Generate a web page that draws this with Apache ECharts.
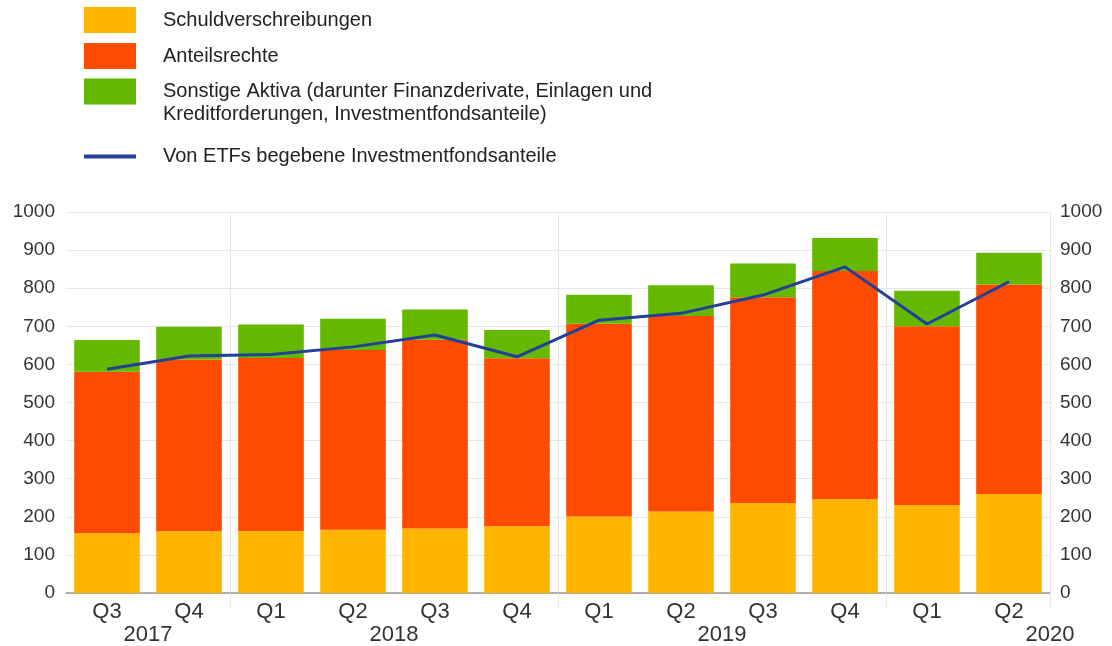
<!DOCTYPE html>
<html>
<head>
<meta charset="utf-8">
<script src="https://cdn.jsdelivr.net/npm/echarts@6/dist/echarts.min.js"></script>
<style>
  html, body { margin: 0; padding: 0; background: #fff; }
  #chart { width: 1112px; height: 646px; }
</style>
</head>
<body>
<div id="chart"></div>
<script>
const quarters = ["Q3", "Q4", "Q1", "Q2", "Q3", "Q4", "Q1", "Q2", "Q3", "Q4", "Q1", "Q2"];
// year labels sit on category boundaries (13 slots)
const yearSlots = ["", "2017", "", "", "2018", "", "", "", "2019", "", "", "", "2020"];
const yearStarts = [2, 6, 10];

const debtSecurities = [157, 162, 163, 166, 169, 175, 201, 214, 236, 246, 231, 260];
const equity = [424, 451, 454, 472, 496, 441, 506, 513, 540, 599, 469, 550];
const otherAssets = [83, 86, 88, 82, 79, 74, 76, 81, 89, 87, 93, 83];
const etfShares = [587, 622, 626, 646, 677, 620, 716, 734, 782, 856, 706, 817];

const names = {
  debt: "Schuldverschreibungen",
  equity: "Anteilsrechte",
  other: "Sonstige Aktiva",
  etf: "Von ETFs begebene Investmentfondsanteile"
};
const otherLabel = "Sonstige Aktiva (darunter Finanzderivate, Einlagen und\nKreditforderungen, Investmentfondsanteile)";

const chart = echarts.init(document.getElementById("chart"));
const font = "Liberation Sans, Arial, sans-serif";
const gridColor = "#e6e6e6";

const legendBase = (top, item, extra) => Object.assign({
  left: 84,
  top: top,
  padding: 0,
  itemWidth: 52,
  itemHeight: 26,
  selectedMode: false,
  data: [item],
  textStyle: { fontFamily: font, fontSize: 20, color: "#222", lineHeight: 23, padding: [0, 0, 0, 22] }
}, extra || {});

const showYearStart = (i) => yearStarts.indexOf(i) !== -1;

chart.setOption({
  animation: false,
  textStyle: { fontFamily: font },
  legend: [
    legendBase(7, { name: names.debt, icon: "rect" }),
    legendBase(43, { name: names.equity, icon: "rect" }),
    // empty first line so the first text line sits level with the swatch
    legendBase(57, { name: names.other, icon: "rect" }, { formatter: () => " \n" + otherLabel }),
    legendBase(145, { name: names.etf, icon: "rect" }, { itemHeight: 4 })
  ],
  grid: { left: 66, right: 62, top: 212, bottom: 53 },
  xAxis: [
    {
      type: "category",
      data: quarters,
      axisLine: { lineStyle: { color: "#999", width: 1.5 } },
      axisTick: { show: true, interval: showYearStart, length: 14, lineStyle: { color: gridColor } },
      splitLine: { show: true, interval: showYearStart, lineStyle: { color: gridColor } },
      axisLabel: { fontSize: 22, color: "#333", margin: 8 }
    },
    {
      type: "category",
      data: yearSlots,
      boundaryGap: false,
      position: "bottom",
      offset: 23,
      axisLine: { show: false },
      axisTick: { show: false },
      splitLine: { show: false },
      axisLabel: { interval: 0, fontSize: 22, color: "#333", margin: 8 }
    }
  ],
  yAxis: [
    {
      type: "value",
      min: 0, max: 1000, interval: 100,
      axisLine: { show: false },
      axisTick: { show: false },
      splitLine: { lineStyle: { color: gridColor } },
      axisLabel: { fontSize: 19, color: "#333", margin: 11, formatter: (v) => String(v) }
    },
    {
      type: "value",
      position: "right",
      min: 0, max: 1000, interval: 100,
      axisLine: { show: false },
      axisTick: { show: false },
      splitLine: { show: false },
      axisLabel: { fontSize: 19, color: "#333", margin: 10, formatter: (v) => String(v) }
    }
  ],
  series: [
    { name: names.debt, type: "bar", stack: "assets", data: debtSecurities, barCategoryGap: "20%", itemStyle: { color: "#FFB400" } },
    { name: names.equity, type: "bar", stack: "assets", data: equity, itemStyle: { color: "#FF4B00" } },
    { name: names.other, type: "bar", stack: "assets", data: otherAssets, itemStyle: { color: "#65B800" } },
    {
      name: names.etf, type: "line", data: etfShares, symbol: "none", z: 10,
      lineStyle: { color: "#22409A", width: 3 }, itemStyle: { color: "#22409A" }
    }
  ]
});
</script>
</body>
</html>
